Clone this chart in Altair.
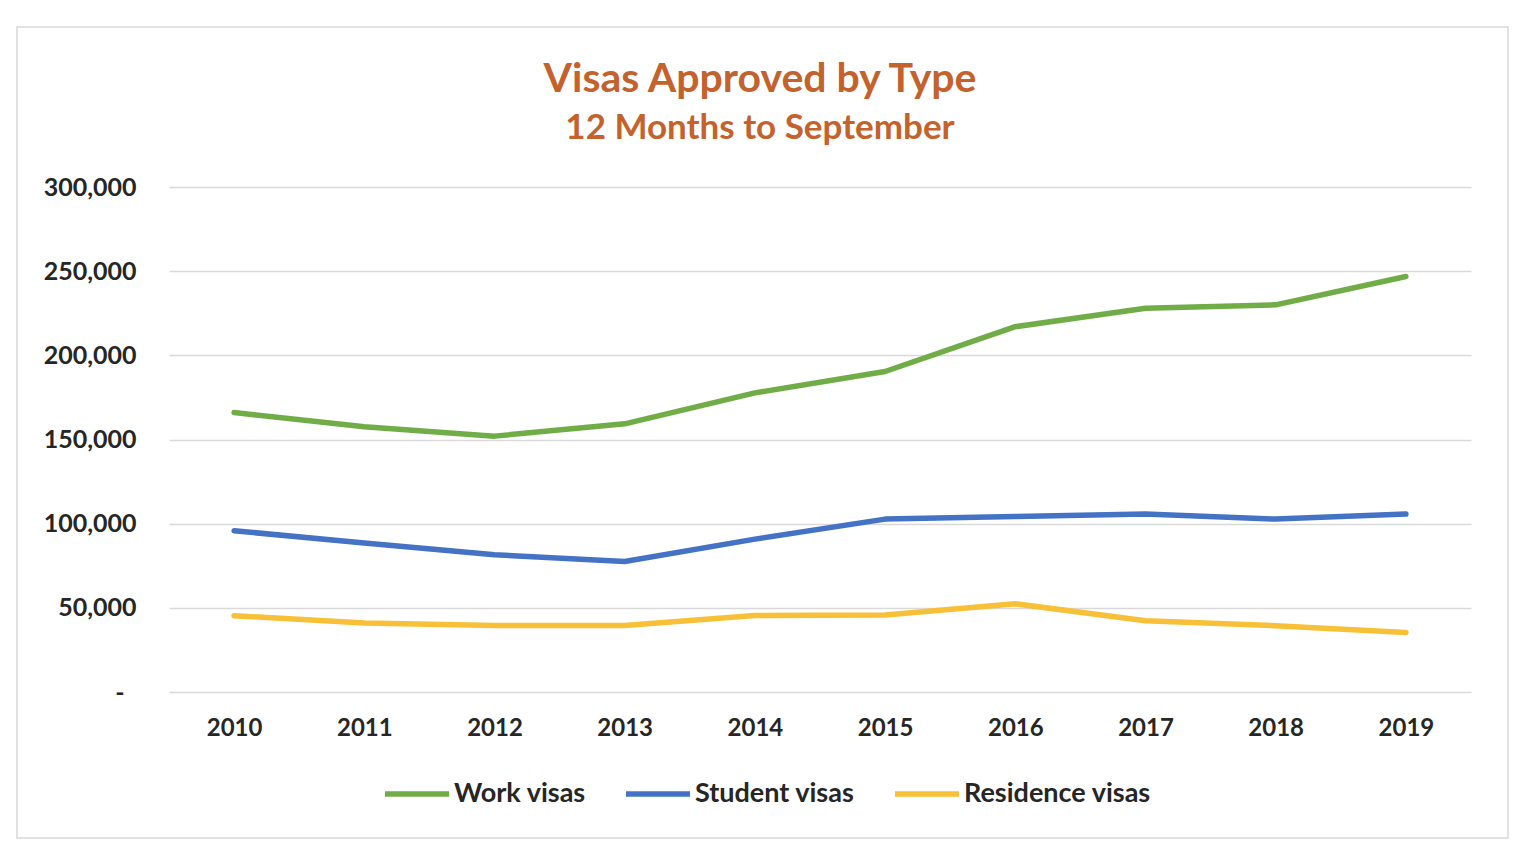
import altair as alt
import pandas as pd

years = ["2010", "2011", "2012", "2013", "2014", "2015", "2016", "2017", "2018", "2019"]
work_visas = [166000, 157600, 152000, 159300, 177700, 190400, 217000, 228000, 230000, 246800]
student_visas = [95800, 88500, 81500, 77500, 90800, 102700, 104300, 105700, 102700, 105700]
residence_visas = [45300, 41000, 39500, 39500, 45500, 45700, 52400, 42300, 39400, 35400]
series_names = ["Work visas", "Student visas", "Residence visas"]
series_colors = ["#70AD47", "#4472C4", "#F7C036"]
y_ticks = [0, 50000, 100000, 150000, 200000, 250000, 300000]

rows = []
for name, vals in zip(series_names, [work_visas, student_visas, residence_visas]):
    for yr, v in zip(years, vals):
        rows.append({"Year": yr, "Series": name, "Value": v})
df = pd.DataFrame(rows)

FONT = "Lato"
TEXT = "#262626"

frame = alt.Chart(alt.Data(values=[{}])).mark_rect(
    fill="white", fillOpacity=0, stroke="#D9D9D9", strokeWidth=1.5
).encode(
    x=alt.value(-152), x2=alt.value(1339), y=alt.value(-160), y2=alt.value(651)
)

lines = alt.Chart(df).mark_line(strokeWidth=5.5, strokeJoin="round", strokeCap="round").encode(
    x=alt.X("Year:O", sort=years, scale=alt.Scale(paddingOuter=0.5),
            axis=alt.Axis(title=None, labelAngle=0, labelFont=FONT, labelFontSize=24,
                          labelFontWeight="bold", labelColor=TEXT, labelPadding=24,
                          ticks=False, domain=False, grid=False)),
    y=alt.Y("Value:Q", scale=alt.Scale(domain=[0, 300000], nice=False),
            axis=alt.Axis(title=None, values=y_ticks,
                          labelExpr="datum.value == 0 ? '-' : format(datum.value, ',')",
                          labelFont=FONT, labelFontSize=25, labelFontWeight="bold",
                          labelColor=TEXT,
                          labelPadding={"condition": {"test": "datum.value === 0", "value": 45}, "value": 33},
                          ticks=False, domain=False,
                          grid=True, gridColor="#D9D9D9", gridWidth=1.5)),
    color=alt.Color("Series:N", scale=alt.Scale(domain=series_names, range=series_colors),
                    sort=series_names,
                    legend=alt.Legend(title=None, orient="none", direction="horizontal",
                                      legendX=213, legendY=572,
                                      symbolType="stroke", symbolSize=4100,
                                      symbolStrokeWidth=5.5, labelFont=FONT,
                                      labelFontSize=27, labelFontWeight="bold",
                                      labelColor=TEXT, labelOffset=2, labelLimit=400,
                                      columnPadding=28)),
)

chart = alt.layer(frame, lines).properties(
    width=1302,
    height=505,
    padding={"left": 161, "top": 179, "right": 40, "bottom": 150},
    autosize=alt.AutoSizeParams(type="none"),
    background="white",
    title=alt.TitleParams(
        text="Visas Approved by Type",
        subtitle="12 Months to September",
        font=FONT, fontSize=41, fontWeight="bold", color="#C4622D",
        subtitleFont=FONT, subtitleFontSize=35, subtitleFontWeight="bold",
        subtitleColor="#C4622D", subtitlePadding=10,
        anchor="middle", frame="group", dx=-60, offset=-121,
    ),
).configure_view(stroke=None)

chart.save("out.html", embed_options={"renderer": "svg", "actions": False})
